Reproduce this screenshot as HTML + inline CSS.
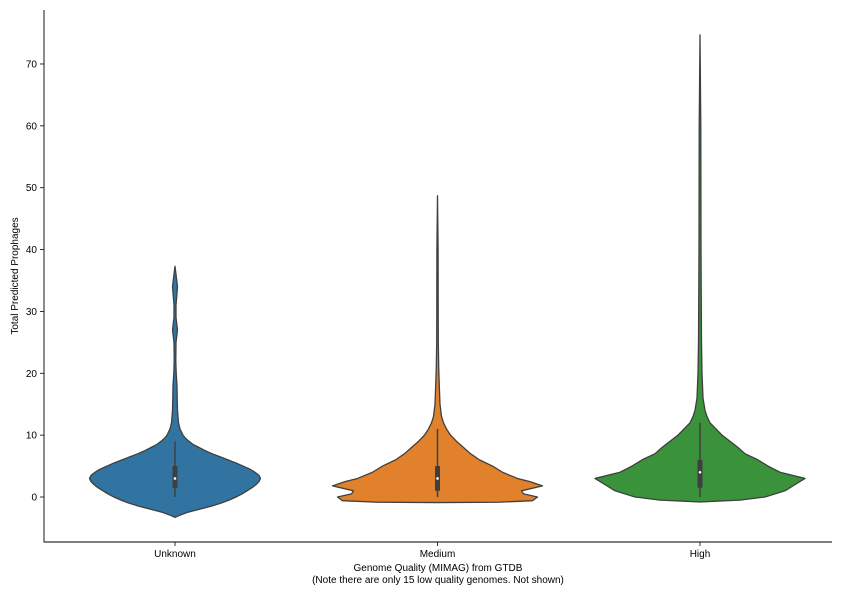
<!DOCTYPE html>
<html><head><meta charset="utf-8"><style>
body{margin:0;background:#fff;}
svg{display:block;font-family:"Liberation Sans",sans-serif;}
</style></head><body>
<svg id="chart" width="842" height="595"></svg>
<script>
const categories=["Unknown","Medium","High"];
const colors=["#3274a1","#e1812c","#3a923a"];
const yTicks=[0,10,20,30,40,50,60,70];
// density profiles: [value, relative half-width (px at scale 1)]
const unknownProfile=[[-3.3,0],[-3,4],[-2.5,12],[-2,24],[-1.5,36],[-1,46],[-0.5,54],[0,61],[0.5,67],[1,72],[1.5,77],[2,81],[2.5,84],[3,85.5],[3.5,84],[4,80],[4.5,75],[5,68],[5.5,61],[6,53],[6.5,45],[7,37],[7.5,30],[8,24],[8.5,18],[9,14],[9.5,10.5],[10,8],[11,5],[12,3.5],[14,2.5],[16,2.2],[18,2],[20,1.2],[22,0.8],[25,1],[27,2.5],[29,1],[31,1],[34,2.5],[36,1],[37.3,0]];
const mediumProfile=[[-0.9,0],[-0.85,60],[-0.6,95],[0,100],[0.5,86],[1,84],[1.8,105],[2.5,92],[3,80],[4,65],[5,55],[6,42],[7,33],[8,26],[9,19],[10,13],[11,9],[12,6],[13,4],[15,2.5],[18,1.8],[21,1.2],[25,0.8],[30,0.7],[40,0.6],[48.7,0]];
const highProfile=[[-0.8,0],[-0.5,40],[0,65],[1,85],[2,95],[3,105],[4,80],[5,68],[6,58],[7,45],[8,38],[9,30],[10,22],[11,16],[12,10],[13,7],[14,5],[16,3],[20,2],[25,1.5],[40,1],[60,0.8],[74.7,0]];
const profiles=[unknownProfile,mediumProfile,highProfile];
const whiskerLow=[0,0,0];
const whiskerHigh=[9,11,12];
const q1=[1.5,1,1.5];
const q3=[5,5,6];
const medians=[3,3,4];

const NS="http://www.w3.org/2000/svg";
const svg=document.getElementById("chart");
const L=44,R=832,T=10,B=542;
const y=v=>497-v*6.186;
const x=i=>175+i*262.5;
function mk(tag,attrs,parent){const e=document.createElementNS(NS,tag);for(const k in attrs)e.setAttribute(k,attrs[k]);(parent||svg).appendChild(e);return e;}

profiles.forEach((p,i)=>{
  const cx=x(i);
  let d="";
  p.forEach((pt,j)=>{d+=(j?"L":"M")+(cx+pt[1])+","+y(pt[0]);});
  for(let j=p.length-1;j>=0;j--)d+="L"+(cx-p[j][1])+","+y(p[j][0]);
  d+="Z";
  const v=mk("path",{d:d,fill:colors[i],stroke:"#3f3f3f","stroke-width":1.3,"stroke-linejoin":"round"});
  
  
  const w=mk("line",{x1:cx,x2:cx,y1:y(whiskerLow[i]),y2:y(whiskerHigh[i]),stroke:"#3f3f3f","stroke-width":1.5});
  
  
  const b=mk("rect",{x:cx-2.5,y:y(q3[i]),width:5,height:y(q1[i])-y(q3[i]),fill:"#3f3f3f"});
  
  
  const m=mk("circle",{cx:cx,cy:y(medians[i]),r:1.3,fill:"#fff"});
  
  
  const t=mk("text",{x:cx,y:B+15,"font-size":10,"text-anchor":"middle",fill:"#000"});
  t.textContent=categories[i];
  
  
  mk("line",{x1:cx,x2:cx,y1:B,y2:B+4,stroke:"#000","stroke-width":0.8});
});
yTicks.forEach(v=>{
  mk("line",{x1:L-4,x2:L,y1:y(v),y2:y(v),stroke:"#000","stroke-width":0.8});
  const t=mk("text",{x:L-7,y:y(v)+3.5,"font-size":10,"text-anchor":"end",fill:"#000"});
  t.textContent=v;
  
  
});
const ax=mk("path",{d:`M${L},${T}L${L},${B}L${R},${B}`,fill:"none",stroke:"#000","stroke-width":0.9});


const yl=mk("text",{x:18,y:276,"font-size":10,"text-anchor":"middle",transform:"rotate(-90 18 276)"});
yl.textContent="Total Predicted Prophages";


const xl1=mk("text",{x:438,y:571,"font-size":10,"text-anchor":"middle"});
xl1.textContent="Genome Quality (MIMAG) from GTDB";


const xl2=mk("text",{x:438,y:583,"font-size":10,"text-anchor":"middle"});
xl2.textContent="(Note there are only 15 low quality genomes. Not shown)";


</script>
</body></html>
